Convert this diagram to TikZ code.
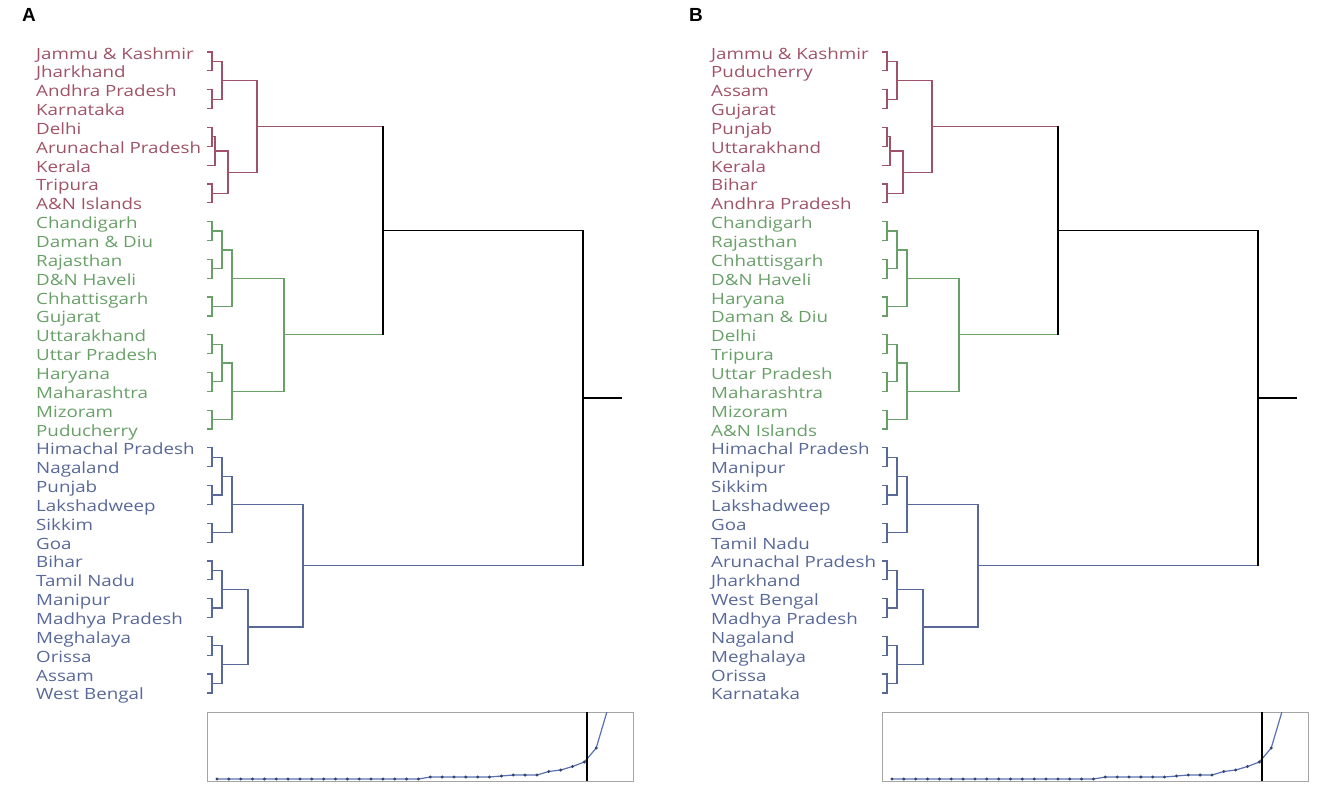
\documentclass[tikz,border=0pt]{standalone}
\usepackage{fontspec}
\setmainfont[FakeStretch=1.21]{Open Sans}
\newfontfamily\panelfont{Liberation Sans}
\definecolor{redc}{RGB}{160,82,104}
\definecolor{greenc}{RGB}{104,160,104}
\definecolor{bluec}{RGB}{88,104,152}
\definecolor{curvec}{RGB}{90,112,180}
\definecolor{boxc}{RGB}{165,165,165}
\newcommand\ry[1]{52+18.85*(#1)}
\tikzset{
  lab/.style={anchor=base west,inner sep=0pt,font=\fontsize{15.5}{18}\selectfont},
  panel/.style={inner sep=0pt,font=\panelfont\bfseries\fontsize{19}{22}\selectfont},
  tree/.style={line width=1.2pt},
  trunk/.style={line width=1.5pt,black}
}
\newcommand\dendro[4]{%
  \foreach \t [count=\i from 0] in {#2} {\node[lab,text=redc] (#1t\i) at (36,{\ry{\i}+7}) {\t};}
  \foreach \t [count=\i from 9] in {#3} {\node[lab,text=greenc] (#1t\i) at (36,{\ry{\i}+7}) {\t};}
  \foreach \t [count=\i from 21] in {#4} {\node[lab,text=bluec] (#1t\i) at (36,{\ry{\i}+7}) {\t};}
  \foreach \i in {0,...,34} {\coordinate (#1l\i) at (207,{\ry{\i}});}
  % red merges
  \coordinate (#1r1) at (212,{\ry{0.5}});
  \coordinate (#1r2) at (212,{\ry{2.5}});
  \coordinate (#1r3) at (222,{\ry{1.5}});
  \coordinate (#1r4) at (212,{\ry{4.5}});
  \coordinate (#1r5) at (215,{\ry{5.25}});
  \coordinate (#1r6) at (212,{\ry{7.5}});
  \coordinate (#1r7) at (228,{\ry{6.375}});
  \coordinate (#1R) at (257,{\ry{3.9375}});
  % green merges
  \coordinate (#1g1) at (212,{\ry{9.5}});
  \coordinate (#1g2) at (212,{\ry{11.5}});
  \coordinate (#1g3) at (222,{\ry{10.5}});
  \coordinate (#1g4) at (212,{\ry{13.5}});
  \coordinate (#1g5) at (232,{\ry{12}});
  \coordinate (#1g6) at (212,{\ry{15.5}});
  \coordinate (#1g7) at (212,{\ry{17.5}});
  \coordinate (#1g8) at (222,{\ry{16.5}});
  \coordinate (#1g9) at (212,{\ry{19.5}});
  \coordinate (#1g10) at (232,{\ry{18}});
  \coordinate (#1G) at (284,{\ry{15}});
  % blue merges
  \coordinate (#1b1) at (212,{\ry{21.5}});
  \coordinate (#1b2) at (212,{\ry{23.5}});
  \coordinate (#1b3) at (222,{\ry{22.5}});
  \coordinate (#1b4) at (212,{\ry{25.5}});
  \coordinate (#1b5) at (232,{\ry{24}});
  \coordinate (#1b6) at (212,{\ry{27.5}});
  \coordinate (#1b7) at (212,{\ry{29.5}});
  \coordinate (#1b8) at (222,{\ry{28.5}});
  \coordinate (#1b9) at (212,{\ry{31.5}});
  \coordinate (#1b10) at (212,{\ry{33.5}});
  \coordinate (#1b11) at (222,{\ry{32.5}});
  \coordinate (#1b12) at (248,{\ry{30.5}});
  \coordinate (#1Bc) at (303,{\ry{27.25}});
  % top merges
  \coordinate (#1T) at (383,{\ry{9.46875}});
  \coordinate (#1Root) at (583,{\ry{18.359375}});
  \coordinate (#1stub) at (622,{\ry{18.359375}});
  % red connectors
  \draw[tree,redc] (#1l0) -| (#1r1) |- (#1l1);
  \draw[tree,redc] (#1l2) -| (#1r2) |- (#1l3);
  \draw[tree,redc] (#1r1) -| (#1r3) |- (#1r2);
  \draw[tree,redc] (#1l4) -| (#1r4) |- (#1l5);
  \draw[tree,redc] (#1r4) -| (#1r5) |- (#1l6);
  \draw[tree,redc] (#1l7) -| (#1r6) |- (#1l8);
  \draw[tree,redc] (#1r5) -| (#1r7) |- (#1r6);
  \draw[tree,redc] (#1r3) -| (#1R) |- (#1r7);
  % green connectors
  \draw[tree,greenc] (#1l9) -| (#1g1) |- (#1l10);
  \draw[tree,greenc] (#1l11) -| (#1g2) |- (#1l12);
  \draw[tree,greenc] (#1g1) -| (#1g3) |- (#1g2);
  \draw[tree,greenc] (#1l13) -| (#1g4) |- (#1l14);
  \draw[tree,greenc] (#1g3) -| (#1g5) |- (#1g4);
  \draw[tree,greenc] (#1l15) -| (#1g6) |- (#1l16);
  \draw[tree,greenc] (#1l17) -| (#1g7) |- (#1l18);
  \draw[tree,greenc] (#1g6) -| (#1g8) |- (#1g7);
  \draw[tree,greenc] (#1l19) -| (#1g9) |- (#1l20);
  \draw[tree,greenc] (#1g8) -| (#1g10) |- (#1g9);
  \draw[tree,greenc] (#1g5) -| (#1G) |- (#1g10);
  % blue connectors
  \draw[tree,bluec] (#1l21) -| (#1b1) |- (#1l22);
  \draw[tree,bluec] (#1l23) -| (#1b2) |- (#1l24);
  \draw[tree,bluec] (#1b1) -| (#1b3) |- (#1b2);
  \draw[tree,bluec] (#1l25) -| (#1b4) |- (#1l26);
  \draw[tree,bluec] (#1b3) -| (#1b5) |- (#1b4);
  \draw[tree,bluec] (#1l27) -| (#1b6) |- (#1l28);
  \draw[tree,bluec] (#1l29) -| (#1b7) |- (#1l30);
  \draw[tree,bluec] (#1b6) -| (#1b8) |- (#1b7);
  \draw[tree,bluec] (#1l31) -| (#1b9) |- (#1l32);
  \draw[tree,bluec] (#1l33) -| (#1b10) |- (#1l34);
  \draw[tree,bluec] (#1b9) -| (#1b11) |- (#1b10);
  \draw[tree,bluec] (#1b8) -| (#1b12) |- (#1b11);
  \draw[tree,bluec] (#1b5) -| (#1Bc) |- (#1b12);
  % top level
  \draw[tree,redc] (#1R) -- (#1R -| #1T);
  \draw[tree,greenc] (#1G) -- (#1G -| #1T);
  \draw[trunk] (#1R -| #1T) -- (#1G -| #1T);
  \draw[trunk] (#1T) -- (#1T -| #1Root);
  \draw[tree,bluec] (#1Bc) -- (#1Bc -| #1Root);
  \draw[trunk] (#1T -| #1Root) -- (#1Bc -| #1Root);
  \draw[trunk] (#1Root) -- (#1stub);
  % scree plot
  \coordinate (#1boxa) at (207,712);
  \coordinate (#1boxb) at (633,781);
  \draw[boxc,line width=1pt] (#1boxa) rectangle (#1boxb);
  \begin{scope}
    \clip (#1boxa) rectangle (#1boxb);
    \draw[curvec,line width=1.2pt,mark=*,mark size=0.8pt,mark options={fill=curvec!60!black,draw=curvec!60!black}]
      plot coordinates {(217,779) (228.85,779) (240.7,779) (252.55,779) (264.4,779) (276.25,779) (288.1,779) (299.95,779) (311.8,779) (323.65,779) (335.5,779) (347.35,779) (359.2,779) (371.05,779) (382.9,779) (394.75,779) (406.6,779) (418.45,779) (430.3,777) (442.15,777) (454,777) (465.85,777) (477.7,777) (489.55,777) (501.4,776) (513.25,775) (525.1,775) (536.95,775) (548.8,771.5) (560.65,770) (572.5,766.5) (584.35,762) (596.2,748) (608.05,708)};
  \end{scope}
  \draw[black,line width=1.8pt] (587,712) -- (587,781);
}
\begin{document}
\begin{tikzpicture}[x=1pt,y=-1pt]
\useasboundingbox (0,0) rectangle (1325,793);
\node[panel] (pA) at (29,15) {A};
\node[panel] (pB) at (696,15) {B};
\dendro{A}%
  {Jammu \& Kashmir,Jharkhand,Andhra Pradesh,Karnataka,Delhi,Arunachal Pradesh,Kerala,Tripura,A\&N Islands}%
  {Chandigarh,Daman \& Diu,Rajasthan,D\&N Haveli,Chhattisgarh,Gujarat,Uttarakhand,Uttar Pradesh,Haryana,Maharashtra,Mizoram,Puducherry}%
  {Himachal Pradesh,Nagaland,Punjab,Lakshadweep,Sikkim,Goa,Bihar,Tamil Nadu,Manipur,Madhya Pradesh,Meghalaya,Orissa,Assam,West Bengal}
\begin{scope}[xshift=675pt]
\dendro{B}%
  {Jammu \& Kashmir,Puducherry,Assam,Gujarat,Punjab,Uttarakhand,Kerala,Bihar,Andhra Pradesh}%
  {Chandigarh,Rajasthan,Chhattisgarh,D\&N Haveli,Haryana,Daman \& Diu,Delhi,Tripura,Uttar Pradesh,Maharashtra,Mizoram,A\&N Islands}%
  {Himachal Pradesh,Manipur,Sikkim,Lakshadweep,Goa,Tamil Nadu,Arunachal Pradesh,Jharkhand,West Bengal,Madhya Pradesh,Nagaland,Meghalaya,Orissa,Karnataka}
\end{scope}
\end{tikzpicture}
\end{document}
